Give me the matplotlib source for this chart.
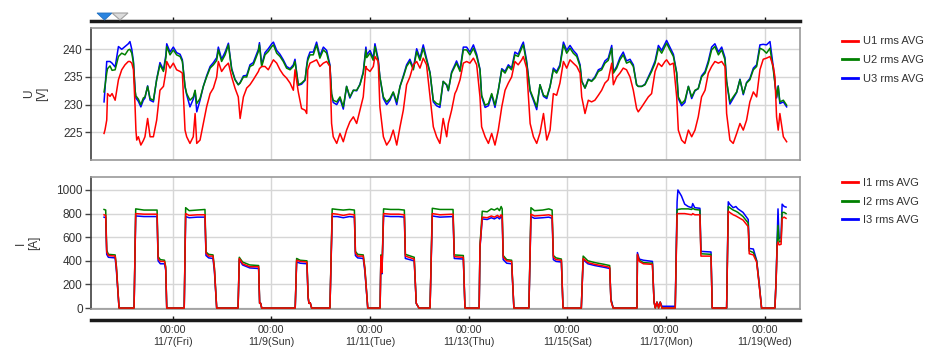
import numpy as np
import pandas as pd
import matplotlib
matplotlib.use('Agg')
import matplotlib.pyplot as plt
import matplotlib.dates as mdates
from matplotlib.patches import Polygon
from matplotlib.ticker import FuncFormatter

start = pd.Timestamp('2014-11-07 00:00')

# voltage, hours counted from 11/7 00:00
t_u = [-33.4, -32.9, -32.1, -31.7, -30.5, -29.5, -28.0, -26.4, -24.8, -23.2,
       -21.6, -20.8, -19.9, -19.1, -18.3, -17.9, -17.5, -16.7, -15.5, -14.3,
       -13.5, -12.2, -11.0, -9.4, -7.8, -6.2, -4.5, -3.3, -2.9, -1.3,
       0.3, 1.9, 3.6, 4.7, 6.0, 6.8, 8.4, 10.0, 10.9, 11.7,
       13.3, 14.9, 16.5, 18.2, 19.8, 21.4, 22.2, 23.8, 25.5, 27.1,
       28.7, 30.3, 31.9, 32.8, 34.4, 36.0, 37.6, 39.2, 41.7, 42.2,
       43.3, 44.9, 46.5, 48.2, 49.0, 50.6, 52.2, 53.8, 55.4, 57.1,
       58.7, 59.5, 61.1, 62.7, 64.4, 65.2, 65.7, 66.8, 68.4, 70.0,
       71.6, 73.3, 74.9, 76.5, 77.3, 78.1, 79.8, 81.4, 83.0, 84.6,
       86.2, 87.9, 89.5, 91.1, 92.7, 94.0, 94.4, 96.0, 97.6, 98.4,
       100.0, 100.8, 102.5, 104.1, 105.7, 107.3, 109.0, 110.6, 112.2, 113.8,
       115.4, 117.1, 118.7, 120.3, 121.9, 123.5, 125.2, 126.8, 128.4, 130.0,
       131.6, 133.3, 134.1, 135.7, 137.3, 138.1, 139.8, 141.4, 143.0, 144.6,
       146.3, 147.9, 149.5, 150.3, 152.0, 153.6, 155.2, 156.8, 158.4, 160.1,
       161.7, 163.3, 164.9, 166.5, 168.1, 169.8, 170.6, 172.2, 173.9, 175.5,
       177.1, 178.7, 180.4, 182.0, 183.6, 185.2, 186.8, 188.4, 190.1, 191.7,
       193.3, 194.9, 196.6, 198.2, 199.0, 200.6, 202.2, 203.8, 205.4, 207.1,
       208.7, 210.3, 211.9, 213.6, 214.4, 216.0, 217.6, 219.2, 220.8, 222.5,
       224.1, 225.7, 226.5, 228.2, 229.8, 231.4, 233.0, 234.7, 236.3, 237.9,
       239.5, 240.3, 241.9, 243.6, 245.2, 246.0, 247.6, 249.2, 250.9, 252.5,
       254.1, 255.7, 257.3, 259.0, 260.6, 262.2, 263.8, 265.5, 267.1, 268.7,
       269.5, 271.1, 272.7, 274.4, 276.0, 277.6, 279.2, 280.8, 282.5, 284.1,
       285.7, 287.3, 288.9, 290.6, 292.2, 293.0, 293.8, 294.6, 295.4, 297.1, 298.7]

u1 = [224.8, 225.5, 227.2, 232.0, 231.5, 232.0, 230.8, 234.5, 236.3, 237.2,
      237.8, 237.8, 237.5, 236.3, 229.6, 225.4, 223.6, 224.2, 222.7, 223.5,
      224.2, 227.5, 224.2, 224.2, 227.2, 232.6, 233.3, 236.0, 237.8, 236.6,
      237.5, 236.3, 236.0, 235.7, 225.4, 224.2, 223.0, 224.2, 228.4, 223.0,
      223.6, 226.6, 229.6, 232.0, 233.0, 235.0, 237.8, 236.0, 236.9, 237.5,
      235.0, 233.0, 231.4, 227.5, 231.4, 233.0, 233.6, 234.5, 236.0, 236.5,
      236.9, 236.9, 236.3, 237.5, 238.1, 237.5, 236.3, 235.4, 234.8, 233.9,
      232.6, 236.3, 232.3, 229.3, 229.0, 228.4, 236.3, 237.5, 237.8, 238.1,
      236.9, 237.5, 237.8, 236.9, 226.6, 224.2, 223.0, 224.8, 223.3, 225.4,
      226.9, 227.8, 226.6, 229.0, 231.4, 236.9, 236.5, 236.0, 236.9, 238.7,
      237.8, 229.6, 224.2, 222.7, 223.6, 225.4, 222.7, 226.0, 229.0, 233.6,
      235.0, 237.2, 237.8, 236.6, 238.4, 237.2, 231.4, 226.0, 224.2, 223.0,
      227.5, 224.2, 226.6, 229.0, 232.0, 232.6, 234.5, 237.5, 237.8, 237.5,
      238.4, 237.2, 231.4, 226.0, 224.2, 223.0, 224.8, 222.7, 225.4, 229.6,
      232.6, 233.9, 235.0, 237.8, 237.2, 238.1, 238.7, 236.6, 226.6, 224.2,
      223.0, 224.9, 228.4, 223.6, 225.4, 232.0, 231.7, 233.9, 237.8, 236.6,
      238.1, 237.5, 236.9, 235.7, 231.4, 228.4, 230.8, 230.5, 230.8, 231.7,
      232.6, 233.9, 234.5, 237.5, 233.6, 235.0, 235.7, 236.6, 236.3, 235.0,
      232.6, 229.3, 228.7, 229.6, 230.5, 231.4, 232.0, 236.0, 237.5, 236.9,
      237.8, 238.1, 237.2, 237.5, 231.4, 225.4, 223.6, 223.0, 225.4, 224.2,
      225.4, 227.8, 231.4, 232.6, 235.7, 236.9, 237.8, 237.5, 237.8, 236.9,
      228.4, 223.6, 223.0, 224.8, 226.6, 225.4, 227.2, 230.5, 232.3, 231.4,
      236.3, 238.2, 238.4, 238.7, 236.9, 235.0, 227.8, 225.4, 228.4, 224.2, 223.3]

u2 = [232.3, 233.5, 235.7, 236.5, 237.0, 236.2, 236.3, 238.7, 239.3, 239.0,
      239.9, 240.0, 239.3, 237.5, 232.6, 231.5, 231.4, 231.0, 230.0, 231.2,
      231.4, 233.3, 231.1, 230.8, 234.5, 237.2, 236.0, 238.5, 240.5, 239.0,
      239.9, 239.0, 238.7, 237.8, 233.3, 232.0, 230.8, 231.4, 232.6, 230.2,
      231.1, 233.3, 235.0, 236.6, 237.2, 238.0, 239.9, 237.8, 239.0, 240.8,
      236.3, 234.5, 233.6, 233.9, 235.0, 235.0, 236.9, 237.2, 239.6, 240.8,
      236.9, 239.0, 239.6, 240.5, 240.8, 239.3, 238.7, 237.8, 236.6, 236.3,
      236.9, 237.8, 233.6, 233.9, 234.5, 236.9, 238.0, 239.0, 239.0, 240.8,
      238.4, 239.9, 239.3, 236.9, 232.0, 230.8, 230.5, 231.4, 229.6, 233.3,
      231.4, 232.6, 232.6, 233.6, 235.7, 239.9, 238.5, 239.3, 238.0, 240.5,
      237.8, 235.0, 231.4, 230.5, 231.1, 232.3, 230.5, 233.3, 235.0, 236.9,
      237.8, 236.3, 239.6, 238.0, 240.2, 238.0, 235.7, 230.8, 230.2, 230.0,
      234.2, 233.6, 232.6, 235.7, 236.9, 237.5, 236.0, 239.9, 239.9, 239.0,
      240.2, 238.7, 236.3, 231.7, 229.9, 230.2, 232.0, 229.9, 232.6, 236.3,
      235.7, 236.9, 236.3, 239.0, 238.7, 240.2, 240.8, 237.5, 232.6, 231.1,
      229.6, 233.6, 231.7, 231.4, 233.3, 236.3, 235.7, 236.9, 240.8, 239.3,
      240.2, 239.3, 238.7, 236.9, 234.2, 233.0, 234.5, 234.2, 234.8, 236.0,
      236.3, 237.5, 238.0, 240.2, 235.7, 236.6, 238.1, 239.0, 237.5, 237.8,
      236.9, 233.6, 233.3, 233.3, 233.6, 234.8, 236.0, 237.5, 240.2, 239.3,
      240.5, 241.1, 239.9, 238.7, 235.7, 231.4, 230.2, 230.8, 233.3, 231.4,
      232.6, 232.9, 235.0, 235.7, 237.5, 239.9, 240.5, 239.0, 239.9, 238.1,
      234.2, 230.5, 231.4, 232.3, 234.5, 232.0, 233.9, 234.5, 236.3, 236.9,
      240.2, 239.9, 239.3, 240.2, 236.3, 233.9, 231.4, 233.3, 230.5, 230.8, 229.9]

u3 = [230.5, 233.0, 237.8, 237.8, 237.8, 237.5, 236.8, 240.5, 240.0, 240.5,
      241.0, 241.4, 240.0, 237.8, 232.5, 231.2, 231.0, 230.6, 229.6, 230.8,
      231.2, 233.4, 230.8, 230.5, 234.6, 237.6, 236.3, 239.0, 241.0, 239.5,
      240.4, 239.4, 239.1, 238.1, 233.2, 231.8, 229.6, 231.0, 232.5, 228.7,
      230.8, 233.3, 235.2, 236.9, 237.6, 238.5, 240.4, 238.2, 239.5, 241.1,
      236.5, 234.6, 233.6, 234.0, 235.2, 235.3, 237.2, 237.6, 240.0, 241.2,
      237.2, 239.4, 240.1, 241.0, 241.3, 239.8, 239.1, 238.1, 236.9, 236.5,
      237.2, 238.2, 233.5, 233.7, 234.4, 237.1, 238.4, 239.5, 239.5, 241.3,
      238.8, 240.4, 239.8, 237.2, 231.8, 230.4, 230.0, 231.1, 229.2, 233.3,
      231.2, 232.6, 232.5, 233.7, 235.9, 240.4, 239.0, 239.8, 238.4, 241.0,
      238.2, 235.0, 231.1, 230.0, 230.8, 232.2, 230.0, 233.3, 235.2, 237.2,
      238.2, 236.6, 240.1, 238.4, 240.8, 238.4, 235.8, 230.5, 229.8, 229.5,
      234.2, 233.5, 232.5, 235.9, 237.2, 237.9, 236.3, 240.4, 240.4, 239.5,
      240.8, 239.1, 236.4, 231.5, 229.5, 229.8, 231.8, 229.5, 232.5, 236.5,
      236.0, 237.2, 236.6, 239.5, 239.1, 240.7, 241.3, 237.9, 232.4, 230.8,
      229.1, 233.6, 231.5, 231.1, 233.3, 236.6, 236.0, 237.2, 241.3, 239.8,
      240.7, 239.8, 239.1, 237.2, 234.3, 233.0, 234.6, 234.3, 235.0, 236.3,
      236.6, 237.9, 238.4, 240.7, 235.9, 236.9, 238.5, 239.5, 237.9, 238.2,
      237.2, 233.6, 233.3, 233.3, 233.7, 235.0, 236.3, 237.9, 240.7, 239.8,
      241.0, 241.6, 240.4, 239.1, 235.8, 231.1, 229.8, 230.4, 233.3, 231.1,
      232.5, 232.9, 235.2, 236.0, 237.9, 240.4, 241.0, 239.5, 240.4, 238.5,
      234.2, 230.1, 231.1, 232.2, 234.6, 231.8, 234.0, 234.7, 236.6, 237.2,
      240.8, 240.9, 240.8, 241.4, 236.8, 234.0, 231.2, 233.4, 230.2, 230.5, 229.6]

# current, hours counted from 11/7 00:00
t_i = [-33.4, -32.6, -32.1, -31.3, -28.0, -27.4, -26.1, -18.8, -18.0, -14.0,
       -10.0, -7.6, -7.1, -6.0, -4.0, -3.4, -2.9, 5.6, 6.3, 8.0,
       12.0, 15.7, 16.2, 17.5, 19.6, 20.3, 21.4, 31.8, 32.4, 34.0,
       37.5, 41.8, 42.3, 42.8, 43.3, 59.6, 60.3, 62.0, 65.3, 65.9,
       66.3, 66.9, 67.6, 76.5, 77.6, 80.0, 83.0, 86.0, 88.4, 88.9,
       90.0, 92.7, 93.5, 94.9, 100.9, 101.3, 101.8, 102.6, 106.0, 110.0,
       112.7, 113.2, 117.5, 118.5, 119.8, 125.2, 126.3, 130.0, 136.4, 137.0,
       141.4, 142.2, 149.1, 149.5, 150.6, 153.0, 155.0, 156.5, 158.0, 159.0,
       159.8, 160.3, 160.8, 162.5, 164.9, 166.0, 173.3, 174.3, 176.0, 180.0,
       183.0, 184.6, 185.2, 186.5, 189.1, 189.9, 198.8, 199.7, 202.0, 205.4,
       210.0, 212.6, 213.2, 214.3, 225.9, 226.1, 227.0, 229.0, 233.4, 234.2,
       234.8, 235.6, 236.4, 237.2, 238.0, 244.5, 245.4, 245.8, 247.5, 249.1,
       250.8, 252.5, 253.0, 254.0, 256.5, 257.0, 261.9, 262.5, 269.5, 270.3,
       271.0, 272.7, 274.0, 275.0, 277.5, 280.0, 280.5, 282.5, 284.1, 285.3,
       286.5, 293.0, 293.6, 294.1, 294.5, 295.0, 296.0, 296.5, 297.5, 298.4]

i1 = [790, 785, 475, 445, 440, 345, 0, 0, 800, 795,
      795, 795, 420, 395, 395, 340, 0, 0, 800, 785,
      790, 790, 465, 440, 440, 330, 0, 0, 420, 375,
      350, 350, 40, 40, 0, 0, 405, 395, 390, 90,
      40, 45, 0, 0, 800, 795, 785, 795, 790, 465,
      440, 440, 330, 0, 0, 440, 300, 800, 795, 795,
      790, 440, 415, 40, 0, 0, 800, 790, 795, 435,
      430, 0, 0, 520, 770, 765, 780, 770, 785, 770,
      790, 780, 430, 400, 395, 0, 0, 795, 780, 785,
      790, 780, 430, 410, 405, 0, 0, 420, 385, 370,
      355, 345, 60, 0, 0, 455, 395, 375, 370, 50,
      0, 50, 0, 50, 0, 0, 795, 800, 800, 800,
      795, 790, 800, 790, 790, 440, 440, 0, 0, 820,
      810, 790, 780, 770, 745, 690, 460, 450, 390, 200,
      0, 0, 240, 535, 560, 535, 540, 760, 770, 760]

i2 = [835, 830, 490, 455, 450, 355, 0, 0, 840, 830,
      830, 830, 435, 410, 405, 350, 0, 0, 850, 825,
      830, 835, 475, 455, 450, 340, 0, 0, 430, 390,
      365, 360, 40, 40, 0, 0, 420, 405, 400, 95,
      40, 45, 0, 0, 840, 835, 830, 835, 830, 480,
      455, 450, 340, 0, 0, 450, 310, 840, 835, 835,
      830, 455, 430, 40, 0, 0, 845, 835, 835, 450,
      445, 0, 0, 530, 820, 815, 840, 830, 845, 825,
      860, 840, 445, 410, 405, 0, 0, 850, 825, 830,
      840, 830, 445, 425, 415, 0, 0, 440, 400, 385,
      370, 360, 70, 0, 0, 450, 405, 385, 380, 50,
      0, 50, 0, 50, 0, 0, 835, 835, 840, 840,
      840, 835, 845, 835, 830, 460, 455, 0, 0, 860,
      850, 830, 820, 810, 775, 720, 485, 470, 400, 210,
      0, 0, 250, 560, 700, 560, 565, 810, 810, 800]

i3 = [770, 765, 455, 430, 425, 320, 0, 0, 780, 775,
      775, 775, 400, 375, 375, 320, 0, 0, 775, 765,
      770, 770, 445, 425, 420, 310, 0, 0, 410, 365,
      340, 335, 40, 40, 0, 0, 390, 380, 375, 85,
      40, 45, 0, 0, 775, 775, 765, 775, 770, 445,
      425, 420, 310, 0, 0, 430, 290, 780, 775, 775,
      770, 420, 400, 40, 0, 0, 780, 770, 775, 420,
      415, 0, 0, 510, 755, 750, 765, 755, 770, 755,
      775, 765, 410, 380, 375, 0, 0, 775, 760, 765,
      770, 760, 410, 395, 390, 0, 0, 410, 375, 360,
      345, 335, 80, 0, 0, 470, 415, 405, 395, 55,
      5, 50, 15, 50, 15, 15, 900, 1000, 950, 880,
      860, 850, 885, 850, 845, 480, 475, 0, 0, 900,
      880, 850, 860, 840, 810, 750, 505, 500, 405, 220,
      0, 0, 260, 600, 840, 590, 600, 880, 860, 855]

x_from, x_to = -39.75, 305.2   # visible window in hours
tick_days = pd.date_range('2014-11-07', '2014-11-19', freq='2D')


def hours_to_time(h):
    return (start + pd.to_timedelta(np.asarray(h), unit='h')).to_numpy()


def fig_poly(points, **kw):
    # points in pixel coordinates measured from the top-left corner
    pts = [(x / 941, 1 - y / 361) for x, y in points]
    fig.patches.append(Polygon(pts, closed=True, transform=fig.transFigure, **kw))


def day_label(v, pos):
    d = mdates.num2date(v)
    return '00:00\n%d/%d(%s)' % (d.month, d.day, d.strftime('%a'))


plt.rcParams['font.family'] = ['Liberation Sans', 'DejaVu Sans']

fig = plt.figure(figsize=(9.41, 3.61), dpi=100)
L, W = 91 / 941, 709 / 941
H = 132 / 361
ax_u = fig.add_axes([L, 1 - 160 / 361, W, H])
ax_i = fig.add_axes([L, 1 - 309 / 361, W, H], sharex=ax_u)
ax_nav = fig.add_axes([L, 1 - 21 / 361, W, 8 / 361], sharex=ax_u)
ax_t = fig.add_axes([L, 1 - 319.5 / 361, W, 6 / 361], sharex=ax_u)

colors = ['#ff0000', '#008000', '#0000ff']
tu = hours_to_time(t_u)
ti = hours_to_time(t_i)
for vals, lab, c, z in [(u1, 'U1 rms AVG', colors[0], 4),
                        (u2, 'U2 rms AVG', colors[1], 3),
                        (u3, 'U3 rms AVG', colors[2], 2)]:
    ax_u.plot(tu, vals, color=c, lw=1.1, label=lab, zorder=z)
for vals, lab, c, z in [(i1, 'I1 rms AVG', colors[0], 4),
                        (i2, 'I2 rms AVG', colors[1], 3),
                        (i3, 'I3 rms AVG', colors[2], 2)]:
    ax_i.plot(ti, vals, color=c, lw=1.1, label=lab, zorder=z)

xl = hours_to_time([x_from, x_to])
ax_u.set_xlim(xl[0], xl[1])
ax_u.set_xticks(tick_days.to_numpy())
ax_u.xaxis.set_major_formatter(FuncFormatter(day_label))

ax_u.set_ylim(220, 243.85)
ax_u.set_yticks([225, 230, 235, 240])
ax_i.set_ylim(-8, 1110)
ax_i.set_yticks([0, 200, 400, 600, 800, 1000])

for ax, lab, lx in [(ax_u, 'U\n[V]', -0.061), (ax_i, 'I\n[A]', -0.072)]:
    ax.grid(True, color='#d6d6d6', lw=1.0)
    ax.set_axisbelow(True)
    ax.tick_params(axis='x', length=0, labelbottom=False)
    ax.tick_params(axis='y', length=4, width=1, color='#444444', labelsize=8.5,
                   labelcolor='#333333', pad=2)
    for s in ['top', 'right', 'bottom']:
        ax.spines[s].set_color('#999999')
        ax.spines[s].set_linewidth(1.2)
    ax.spines['left'].set_color('#404040')
    ax.spines['left'].set_linewidth(1.2)
    ax.set_ylabel(lab, fontsize=8.5, color='#333333', linespacing=1.1)
    ax.yaxis.set_label_coords(lx, 0.5)

for ax, ytop in [(ax_u, 36.5), (ax_i, 178)]:
    leg = ax.legend(loc='upper left', bbox_to_anchor=(842 / 941, 1 - ytop / 361),
                    bbox_transform=fig.transFigure, frameon=False, fontsize=8,
                    handlelength=1.4, handletextpad=0.5, labelspacing=0.78,
                    borderpad=0, borderaxespad=0)
    for h in leg.get_lines():
        h.set_linewidth(2)
    for t in leg.get_texts():
        t.set_color('#333333')

# time navigator bar and time axis
for ax in [ax_nav, ax_t]:
    ax.set_facecolor('none')
    for s in ['top', 'right', 'left']:
        ax.spines[s].set_visible(False)
    ax.spines['bottom'].set_linewidth(2.5)
    ax.spines['bottom'].set_color('#1a1a1a')
    ax.set_yticks([])
    ax.tick_params(axis='x', direction='in', length=3, width=1, color='#1a1a1a')
ax_nav.tick_params(axis='x', labelbottom=False)
ax_t.tick_params(axis='x', labelbottom=True, labelsize=7.7, labelcolor='#333333', pad=4)

fig_poly([(97, 13), (112, 13), (104.5, 20)], facecolor='#2a84e0', edgecolor='#1f6fc0', lw=0.6)
fig_poly([(112, 13), (128, 13), (120, 20)], facecolor='#dcdcdc', edgecolor='#a0a0a0', lw=0.8)

fig.savefig('out.png', dpi=100)
